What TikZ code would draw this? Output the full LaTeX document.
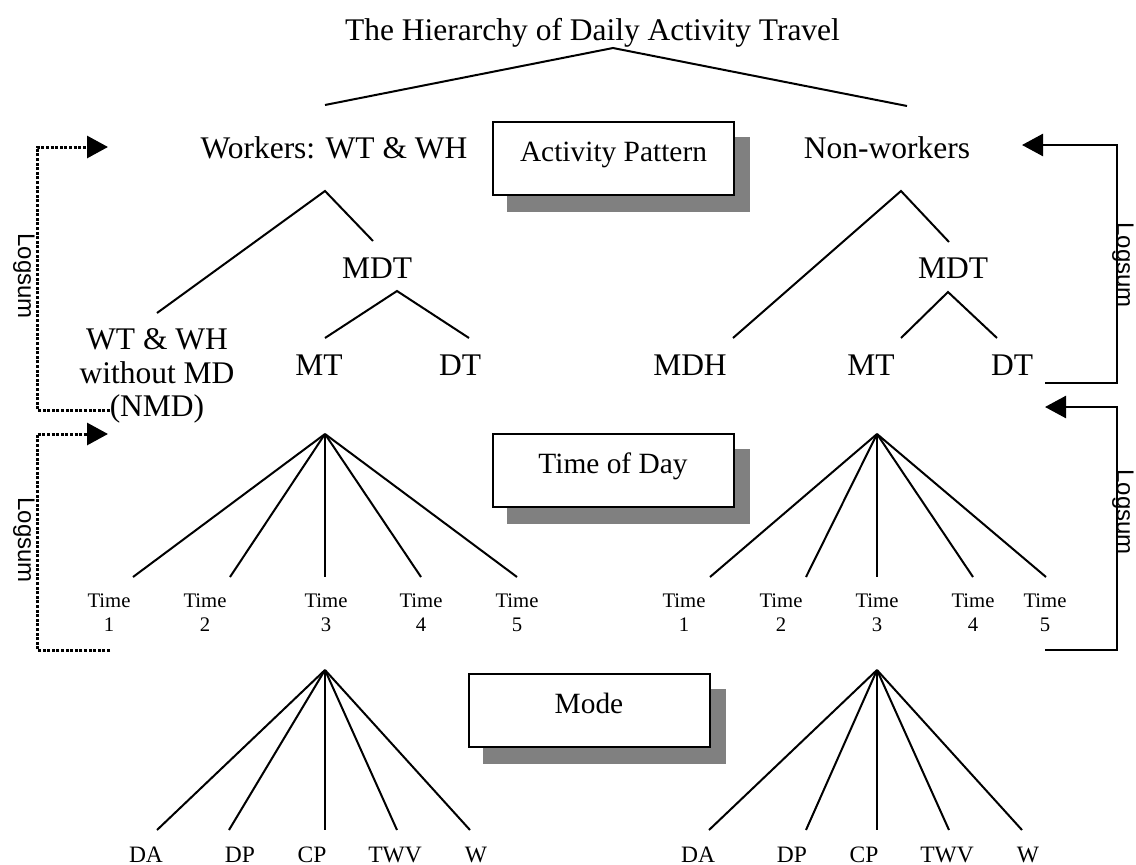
\documentclass[tikz,border=0pt]{standalone}
\usepackage{fontspec}
\setmainfont{Liberation Serif}
\newfontfamily\logsumfont{Liberation Sans}
\usetikzlibrary{arrows.meta,backgrounds,calc}
\definecolor{shadowgray}{HTML}{808080}
\tikzset{
  ttl/.style={inner sep=0pt, anchor=base, font=\fontsize{31.5}{33.5}\selectfont},
  lab/.style={inner sep=0pt, anchor=base, font=\fontsize{31.5}{33.5}\selectfont},
  mlab/.style={inner sep=0pt, anchor=base, font=\fontsize{23.5}{25}\selectfont},
  tlab/.style={inner sep=0pt, anchor=center, align=center, font=\fontsize{20.7}{24}\selectfont},
  stagebox/.style={draw, line width=2pt, fill=white, minimum width=241pt, minimum height=73pt,
    inner sep=0pt, text height=20pt, text depth=15pt, font=\fontsize{29.4}{31}\selectfont},
  shadow/.style={fill=shadowgray},
  branch/.style={line width=2pt},
  dotbr/.style={line width=3pt, dash pattern=on 3pt off 1.6pt},
  solbr/.style={line width=2.5pt},
  tipend/.style={-{Triangle[length=21pt,width=22pt]}},
  logsum/.style={inner sep=0pt, rotate=-90, font=\logsumfont\fontsize{24}{26}\selectfont},
}
\begin{document}
\begin{tikzpicture}[x=1pt,y=-1pt]
\useasboundingbox (0,0) rectangle (1136,865);

% ---------- title and first level ----------
\node[ttl] (title) at (592.5,40) {The Hierarchy of Daily Activity Travel};
\coordinate (t0) at (613,48);
\coordinate (t1) at (325,105);
\coordinate (t2) at (907,106);
\draw[branch] (t1) -- (t0) -- (t2);

\node[lab] (workers) at (334,158) {Workers: WT \& WH};
\node[lab] (nonworkers) at (887,158) {Non-workers};

% ---------- stage boxes ----------
\node[stagebox] (apbox) at (613.5,158.5) {Activity Pattern};
\node[stagebox] (todbox) at (613,470.5) {Time of Day};
\node[stagebox] (modebox) at (589,710.5) {Mode};
\begin{scope}[on background layer]
  \foreach \b in {apbox,todbox,modebox}
    \fill[shadow] ($(\b.south west)+(15,16)$) rectangle ($(\b.north east)+(15,16)$);
\end{scope}

% ---------- workers subtree ----------
\coordinate (w0) at (325,191);
\coordinate (w1) at (157,313);
\coordinate (w2) at (373,241);
\draw[branch] (w1) -- (w0) -- (w2);
\node[lab] (wmdt) at (377,278) {MDT};
\coordinate (wm0) at (397,291);
\coordinate (wm1) at (325,338);
\coordinate (wm2) at (469,338);
\draw[branch] (wm1) -- (wm0) -- (wm2);
\node[inner sep=0pt, align=center, font=\fontsize{31.5}{33.5}\selectfont] (nmd) at (157,376) {WT \& WH\\without MD\\(NMD)};
\node[lab] (wmt) at (319,375) {MT};
\node[lab] (wdt) at (460,375) {DT};

% ---------- non-workers subtree ----------
\coordinate (n0) at (901,191);
\coordinate (n1) at (733,338);
\coordinate (n2) at (949,242);
\draw[branch] (n1) -- (n0) -- (n2);
\node[lab] (nmdt) at (953,278) {MDT};
\coordinate (nm0) at (948,292);
\coordinate (nm1) at (901,338);
\coordinate (nm2) at (997,338);
\draw[branch] (nm1) -- (nm0) -- (nm2);
\node[lab] (mdh) at (690,375) {MDH};
\node[lab] (nmt) at (871,375) {MT};
\node[lab] (ndt) at (1012,375) {DT};

% ---------- time of day fans ----------
\coordinate (lt0) at (325,434);
\foreach \x/\n in {133/1,230/2,325/3,421/4,517/5}
  \coordinate (lte\n) at (\x,577);
\foreach \n in {1,...,5} \draw[branch] (lt0) -- (lte\n);
\foreach \x/\n in {109/1,205/2,326/3,421/4,517/5}
  \node[tlab] (ltime\n) at (\x,613) {Time\\\n};

\coordinate (rt0) at (877,434);
\foreach \x/\n in {710/1,806/2,877/3,973/4,1046/5}
  \coordinate (rte\n) at (\x,577);
\foreach \n in {1,...,5} \draw[branch] (rt0) -- (rte\n);
\foreach \x/\n in {684/1,781/2,877/3,973/4,1045/5}
  \node[tlab] (rtime\n) at (\x,613) {Time\\\n};

% ---------- mode fans ----------
\coordinate (lm0) at (325,670);
\foreach \x/\n in {157/1,229/2,325/3,397/4,470/5}
  \coordinate (lme\n) at (\x,830);
\foreach \n in {1,...,5} \draw[branch] (lm0) -- (lme\n);
\node[mlab] (lda) at (146,862) {DA};
\node[mlab] (ldp) at (240,862) {DP};
\node[mlab] (lcp) at (312,862) {CP};
\node[mlab] (ltwv) at (395,862) {TWV};
\node[mlab] (lw) at (476,862) {W};

\coordinate (rm0) at (877,670);
\foreach \x/\n in {709/1,806/2,877/3,949/4,1022/5}
  \coordinate (rme\n) at (\x,830);
\foreach \n in {1,...,5} \draw[branch] (rm0) -- (rme\n);
\node[mlab] (rda) at (698,862) {DA};
\node[mlab] (rdp) at (792,862) {DP};
\node[mlab] (rcp) at (864,862) {CP};
\node[mlab] (rtwv) at (947,862) {TWV};
\node[mlab] (rw) at (1028,862) {W};

% ---------- logsum feedback (left, dotted) ----------
\coordinate (lu1) at (110,410);
\coordinate (lu2) at (37,410);
\coordinate (lu3) at (37,147);
\coordinate (lu4) at (108,147);
\draw[dotbr, tipend] (lu1) -- (lu2) -- (lu3) -- (lu4);
\node[logsum] (lsl1) at (24,276) {Logsum};

\coordinate (ll1) at (110,650);
\coordinate (ll2) at (37,650);
\coordinate (ll3) at (37,434);
\coordinate (ll4) at (108,434);
\draw[dotbr, tipend] (ll1) -- (ll2) -- (ll3) -- (ll4);
\node[logsum] (lsl2) at (24,540) {Logsum};

% ---------- logsum feedback (right, solid) ----------
\coordinate (ru1) at (1045,383);
\coordinate (ru2) at (1117,383);
\coordinate (ru3) at (1117,145);
\coordinate (ru4) at (1022,145);
\draw[solbr, tipend] (ru1) -- (ru2) -- (ru3) -- (ru4);
\node[logsum] (lsr1) at (1123,265) {Logsum};

\coordinate (rl1) at (1045,650);
\coordinate (rl2) at (1117,650);
\coordinate (rl3) at (1117,407);
\coordinate (rl4) at (1045,407);
\draw[solbr, tipend] (rl1) -- (rl2) -- (rl3) -- (rl4);
\node[logsum] (lsr2) at (1123,512) {Logsum};
\end{tikzpicture}
\end{document}
